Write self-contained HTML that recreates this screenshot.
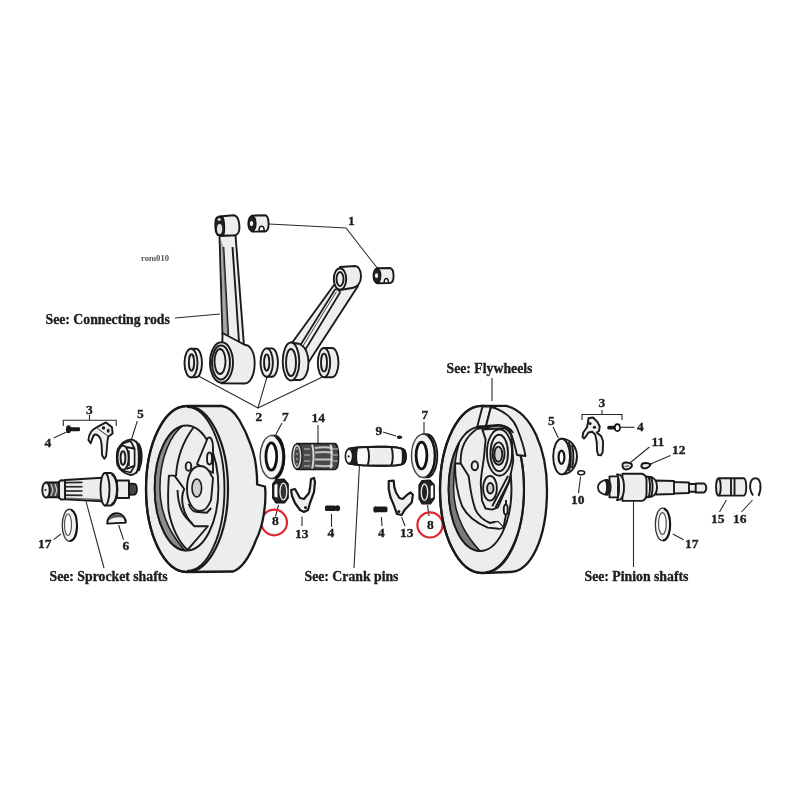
<!DOCTYPE html>
<html><head><meta charset="utf-8">
<style>
html,body{margin:0;padding:0;background:#fff;width:800px;height:800px;overflow:hidden}
svg{display:block;will-change:transform}
.t{font-family:"Liberation Serif",serif;font-weight:bold;font-size:13.75px;fill:#1e1e1e;stroke:#1e1e1e;stroke-width:0.35}
.n{font-family:"Liberation Serif",serif;font-weight:bold;font-size:13.5px;fill:#1e1e1e;stroke:#1e1e1e;stroke-width:0.35}
.s{stroke:#1a1a1a;stroke-width:1.9;fill:#ededed;stroke-linejoin:round}
.w{stroke:#1a1a1a;stroke-width:1.9;fill:#eeeeee;stroke-linejoin:round}
.l{stroke:#2a2a2a;stroke-width:1.1;fill:none}
.k{stroke:#1a1a1a;stroke-width:1.9;fill:none;stroke-linejoin:round}
.d{fill:#1a1a1a}
</style></head><body>
<svg width="800" height="800" viewBox="0 0 800 800">
<!-- ===== labels ===== -->
<text class="t" x="45.5" y="324">See: Connecting rods</text>
<text class="t" x="49.5" y="580.5">See: Sprocket shafts</text>
<text class="t" x="304.5" y="580.5">See: Crank pins</text>
<text class="t" x="584.5" y="580.5">See: Pinion shafts</text>
<text class="t" x="446.5" y="372.5">See: Flywheels</text>
<text x="141" y="260.7" style="font-family:'Liberation Serif',serif;font-weight:bold;font-size:8.6px;fill:#555">rom010</text>

<!-- number labels -->
<text class="n" x="348" y="225">1</text>
<text class="n" x="255.5" y="421">2</text>
<text class="n" x="86" y="414">3</text>
<text class="n" x="44.5" y="447">4</text>
<text class="n" x="137" y="418.3">5</text>
<text class="n" x="122.5" y="549.5">6</text>
<text class="n" x="38" y="548.3">17</text>
<text class="n" x="282" y="421">7</text>
<text class="n" x="311.5" y="422">14</text>
<text class="n" x="295" y="538">13</text>
<text class="n" x="327.5" y="537.3">4</text>
<text class="n" x="375.5" y="435">9</text>
<text class="n" x="421.5" y="419.3">7</text>
<text class="n" x="378" y="537.3">4</text>
<text class="n" x="400" y="537.3">13</text>
<text class="n" x="272" y="525.3">8</text>
<text class="n" x="427" y="529">8</text>
<text class="n" x="548" y="425">5</text>
<text class="n" x="598.5" y="407.3">3</text>
<text class="n" x="637" y="431">4</text>
<text class="n" x="651.5" y="445.8">11</text>
<text class="n" x="672" y="454.3">12</text>
<text class="n" x="571" y="503.8">10</text>
<text class="n" x="711" y="523.3">15</text>
<text class="n" x="733" y="523.3">16</text>
<text class="n" x="685" y="547.8">17</text>

<!-- leaders -->
<g class="l">
<polyline points="175,318 220,314"/>
<polyline points="269,224 346,228 378,269"/>
<polyline points="197.5,375.5 258,408 267,377"/>
<polyline points="258,408 322.5,377"/>
<polyline points="53.6,438 66.6,432"/>
<polyline points="137.3,421 131.6,439"/>
<polyline points="86,501.4 104,568"/>
<polyline points="53.6,539.6 61,534"/>
<polyline points="118.6,525 123.5,539.7"/>
<polyline points="282,423 275.6,435"/>
<polyline points="318,425 318,443"/>
<polyline points="278.6,505 275.5,516.4"/>
<polyline points="302,516.5 302,526"/>
<polyline points="331.5,514 331.5,527"/>
<polyline points="359.4,466 354,568"/>
<polyline points="383,432 396,436"/>
<polyline points="424,422 424,434"/>
<polyline points="381.4,517 382,526"/>
<polyline points="401.6,517 405,526"/>
<polyline points="427.5,505 429,516"/>
<polyline points="492,378 492,401"/>
<polyline points="553,426.75 558.4,438"/>
<polyline points="620.5,427.3 634.5,427.3"/>
<polyline points="649.4,447 629.3,463.5"/>
<polyline points="670.4,455.6 649.4,464.4"/>
<polyline points="578.5,493 580.6,476.5"/>
<polyline points="633.5,501.5 633.5,567"/>
<polyline points="719.5,512 726.4,500"/>
<polyline points="741.5,512 752.5,500"/>
<polyline points="683.7,539.75 672.75,534"/>
<!-- brackets -->
<polyline points="63.3,426 63.3,420.2 116.2,420.2 116.2,426"/>
<polyline points="89.5,420.2 89.5,415"/>
<polyline points="582,420 582,414.5 622,414.5 622,420"/>
<polyline points="602,414.5 602,410"/>
</g>
<!-- red circles -->
<circle cx="274.2" cy="522.5" r="12.8" fill="none" stroke="#e0262b" stroke-width="2.2"/>
<circle cx="430" cy="524.9" r="12.6" fill="none" stroke="#e0262b" stroke-width="2.2"/>


<!-- ===== LEFT PARTS ===== -->
<g id="leftparts">
<!-- screw 4 -->
<rect class="d" x="69" y="427.3" width="11" height="4" rx="1"/>
<ellipse class="d" cx="68.5" cy="429.3" rx="2.6" ry="4"/>
<!-- part 3 hook -->
<path class="w" d="M101.6 424.6 L106 422.4 L112 427.35 L112.6 433.4 L108.2 436.7 C107.5 440 107.1 443 107.1 445.5 C106.8 450 106.5 454 106 456.5 L104.35 458.7 L102.15 455.4 C101.8 451 101.7 447 101.6 444.4 C101.2 441 100.8 439.5 100 437.8 C98.5 435.5 96.5 434.2 95 434.5 C93.5 435 92.8 437 92.25 438.9 L90.6 443.3 L88.4 440 C88.8 436 89.8 433.5 91.15 431.75 C93 429.5 95 428 96.65 427.35 Z"/>
<path d="M97.5 428.5 L108 436" stroke="#333" stroke-width="1" fill="none"/>
<circle class="d" cx="103.5" cy="427.9" r="1.7"/>
<ellipse class="d" cx="108.2" cy="430.8" rx="1.4" ry="2"/>
<!-- nut 5 -->
<path class="w" d="M131.25 439.4 C126 440 121 443 118.1 448.75 C116.5 452 116.5 462 117.5 465 C119 469 124 474 130.6 475 C134 475 138 472 140.6 465 C142 460 142 452 140.6 448 C139 444 135 440 131.25 439.4 Z"/>
<path class="k" stroke-width="1.2" d="M136 441 C139.5 446 140 468 136 473.5 M138.8 443.5 C141 450 141 465 138.8 471"/>
<path d="M122.5 443.75 L130.6 441 L134.6 448.75 L134.6 465.6 L130.6 472.5 L122.5 470.6 Z" fill="#f6f6f6" stroke="#1a1a1a" stroke-width="1.7" stroke-linejoin="round"/>
<path class="k" stroke-width="1.2" d="M128.75 450.5 L128.75 466 M126.5 447 L134.6 448.75 M126.5 469 L134.6 465.6"/>
<ellipse class="w" cx="123.1" cy="457.8" rx="5.6" ry="12.2"/>
<ellipse class="k" stroke-width="1.7" cx="123" cy="458" rx="2.4" ry="6.8"/>
<!-- sprocket shaft -->
<path class="s" d="M117 480.5 L129 480.5 L129 498 L117 498 Z"/>
<path d="M129 483.6 L134.5 483.8 C137.8 485 137.8 493.5 134.5 494.8 L129 494.9 Z" fill="#444" stroke="#111" stroke-width="1.6"/>
<path class="s" d="M65 480 L102.5 477.75 L102.5 501.25 L65 499.25 Z"/>
<g stroke="#2a2a2a" stroke-width="1.7" fill="none">
<line x1="66" y1="482.6" x2="82.5" y2="482.4"/><line x1="66" y1="486.75" x2="82.5" y2="486.75"/>
<line x1="66" y1="491" x2="82.5" y2="491"/><line x1="66" y1="495.2" x2="82.5" y2="495.4"/>
</g>
<path d="M66 497.5 L102 499 L102 500.5 L66 498.8 Z" fill="#666"/>
<path class="w" d="M58.75 482 L61 480.3 L65 480.5 L65 499.25 L61 499.5 L58.75 497.5 Z"/>
<path d="M46 482.4 L59 482.4 L59 497.4 L46 497.4 Z" fill="#4a4a4a" stroke="#111" stroke-width="1.6"/>
<path d="M51 484 L53 490 L51 496 M55 484 L57 490 L55 496" stroke="#ccc" stroke-width="1.2" fill="none"/>
<ellipse class="w" cx="46" cy="490" rx="3.7" ry="7.5"/>
<circle class="d" cx="45.5" cy="490" r="1"/>
<path class="s" d="M105 473 L110 473 A7.5 16.25 0 0 1 110 505.5 L105 505.5 Z"/>
<path class="k" stroke-width="1.2" d="M111.5 474.5 A6 14.8 0 0 1 111.5 504"/>
<ellipse class="w" cx="105" cy="489.25" rx="4.5" ry="16.25"/>
<!-- ring 17 -->
<ellipse cx="69.5" cy="525.25" rx="7.3" ry="16" fill="#f2f2f2" stroke="#333" stroke-width="1.3"/>
<path d="M71 509.6 C76 512 77 520 77 525.5 C77 532 75.5 540 70 541" fill="none" stroke="#111" stroke-width="2"/>
<ellipse cx="68" cy="524.75" rx="3.5" ry="10.75" fill="#fff" stroke="#555" stroke-width="1.2"/>
<!-- key 6 -->
<path d="M107.3 523.6 C107 518 111.5 513.3 116.8 513.3 C121.5 513.3 125.8 517.5 125.8 522.6 Z" fill="#f4f4f4" stroke="#111" stroke-width="1.9" stroke-linejoin="round"/>
<path d="M109 520.5 C110 516 113 514.5 117 514.5 C121 514.5 123.5 516.5 124.5 518.5 C120 516.5 113 516.8 109 520.5 Z" fill="#555"/>
</g>


<!-- ===== MIDDLE PARTS ===== -->
<g id="midparts">
<!-- washer 7 left -->
<path class="s" d="M271 435.6 L275 435.6 A9.3 21.4 0 0 1 275 478.4 L271 478.4 Z"/>
<ellipse cx="271.5" cy="457" rx="11.3" ry="21.4" fill="#f4f4f4" stroke="#444" stroke-width="1.4"/>
<path d="M276 436.8 C281 441 284 449 284 457 C284 466 281 474 275.5 477.8" fill="none" stroke="#111" stroke-width="2.4"/>
<ellipse cx="271.3" cy="456.5" rx="5.4" ry="13.6" fill="#fff" stroke="#111" stroke-width="2.8"/>
<!-- needle bearing 14 -->
<path d="M297 443.6 L335 443.6 C339.5 444 340 469 335 469.5 L297 469.5 Z" fill="#4a4a4a" stroke="#1a1a1a" stroke-width="1.6"/>
<g stroke="#c4c4c4" stroke-width="2" fill="none">
<path d="M315 448 C322 447 328 447 333 448.5"/><path d="M315 452.5 C322 451.8 328 451.8 333 452.8"/>
<path d="M315 459.5 L333 459.5"/><path d="M315 465.5 C322 466.5 328 466.5 333 465.5"/>
</g>
<g stroke="#9a9a9a" stroke-width="1.6" fill="none">
<path d="M304 449 L310 449 M304 455 L310 455 M304 461 L310 461 M304 466 L310 466"/>
<path d="M333 449 L338 449 M333 455 L338 455 M333 461 L338 461"/>
</g>
<g stroke="#d8d8d8" stroke-width="2" fill="none">
<path d="M312 444.5 C314 450 314 463 312 468.5"/><path d="M330.5 444.5 C332 450 332 463 330.5 468.5"/>
</g>
<ellipse cx="297" cy="456.5" rx="5" ry="12.6" fill="#444" stroke="#1a1a1a" stroke-width="1.4"/>
<ellipse cx="297" cy="456.5" rx="3.6" ry="11" fill="none" stroke="#cfcfcf" stroke-width="1.5"/>
<path d="M296 449 L298 449 M296 454 L298 454 M296 459 L298 459 M296 464 L298 464" stroke="#999" stroke-width="1.5"/>
<!-- nut 8 left -->
<path d="M276 479.5 L284 479.1 L288.2 484 L288.2 498 L284.5 502.9 L276 502.9 L272.7 498 L272.7 484 Z" fill="#222" stroke="#111" stroke-width="1.2"/>
<path d="M274.4 485 L277.4 483.5 L277.4 497.8 L274.4 496.5 Z" fill="#fff"/>
<ellipse cx="283.4" cy="491.5" rx="3.4" ry="8.4" fill="#333" stroke="#e8e8e8" stroke-width="1.3"/>
<!-- part 13 left -->
<path class="w" style="stroke-width:2.2" d="M291 490 L295 489 L300 498 L304 499 L309 493 L310 488 L311 479 L314 478 L315 482 L314 492 L310 503 L308 510 L304 512 L300 510 L295 503 L292 496 Z"/>
<circle class="d" cx="305.5" cy="507.5" r="1.5"/>
<!-- screw 4 mid-left -->
<rect class="d" x="325" y="505.5" width="11" height="5.5" rx="1.5"/>
<ellipse class="d" cx="337.5" cy="508.3" rx="2.6" ry="3"/>
<!-- crank pin -->
<path d="M349 448.6 C360 446.8 375 446.6 385 446.8 C393 447 400 447.8 403 449.2 C406.8 451 406.8 462 403 463.8 C400 465.2 393 465.6 385 465.7 C375 465.9 360 465.6 349 463.6 Z" fill="#eeeeee" stroke="#1a1a1a" stroke-width="1.9"/>
<path d="M351.5 448.3 L358.5 447.6 C357 452 357 461 358.5 465.3 L351.5 464 Z" fill="#1e1e1e"/>
<path d="M400.7 447.8 C404.5 448.5 406 449.5 406 456.5 C406 463.5 404.5 464.5 400.7 465.2 C402 461 402 452 400.7 447.8 Z" fill="#1e1e1e"/>
<path d="M358.5 447.6 C357 452 357 461 358.5 465.3 L367.5 465.6 C369.5 461 369.5 452 367.5 447.1 Z" fill="#fafafa"/>
<path d="M391.3 446.9 C393.3 452 393.3 461 391.3 465.6 L400.7 465.2 C402 461 402 452 400.7 447.8 Z" fill="#fafafa"/>
<path class="k" stroke-width="1.4" d="M367.5 447.1 C369.5 452 369.5 461 367.5 465.6 M391.3 446.9 C393.3 452 393.3 461 391.3 465.6"/>
<path d="M349 448.6 C360 446.8 375 446.6 385 446.8 C393 447 400 447.8 403 449.2 C406.8 451 406.8 462 403 463.8 C400 465.2 393 465.6 385 465.7 C375 465.9 360 465.6 349 463.6" fill="none" stroke="#1a1a1a" stroke-width="1.9"/>
<ellipse cx="349" cy="456.2" rx="3.6" ry="7.3" fill="#fafafa" stroke="#1a1a1a" stroke-width="1.6"/>
<circle class="d" cx="348.6" cy="456.4" r="1.1"/>
<!-- part 9 -->
<ellipse class="d" cx="399.5" cy="437.2" rx="2.8" ry="1.7"/>
<!-- washer 7 right -->
<path class="s" d="M423 434.2 L427 434.2 A10.3 21.6 0 0 1 427 477.4 L423 477.4 Z"/>
<ellipse cx="423" cy="455.8" rx="11.5" ry="21.6" fill="#f4f4f4" stroke="#444" stroke-width="1.4"/>
<path d="M428 435.5 C433 440 435 448 435 456 C435 465 432.5 473 427 476.8" fill="none" stroke="#111" stroke-width="2.2"/>
<ellipse cx="421.5" cy="455.5" rx="5.4" ry="13.4" fill="#fff" stroke="#111" stroke-width="2.8"/>
<!-- screw 4 mid-right -->
<rect class="d" x="376" y="506.5" width="11.5" height="5.8" rx="1.5"/>
<ellipse class="d" cx="375.5" cy="509.4" rx="2.2" ry="3.2"/>
<!-- part 13 right -->
<path class="w" style="stroke-width:2.2" d="M388.7 481 L393.7 480.7 L394.3 486.9 L396 492.5 L399.4 498 L402.7 499 L407.2 494.7 L410.6 492.5 L412.9 494.7 L411.7 502.6 L405 509.4 L401.6 515 L397 514 L393.7 504.9 L390.4 497 L388.7 489 Z"/>
<circle class="d" cx="398.8" cy="511.6" r="1.5"/>
<!-- nut 8 right -->
<path d="M422 480.5 L430 480 L434.3 485 L434.3 498.5 L430.5 503.8 L422 503.8 L419 498.5 L419 485 Z" fill="#222" stroke="#111" stroke-width="1.2"/>
<path d="M430.7 486 L433.3 485 L433.3 497.5 L430.7 498.5 Z" fill="#fff"/>
<ellipse cx="424.5" cy="492.2" rx="3.2" ry="8.2" fill="#222" stroke="#e8e8e8" stroke-width="1.3"/>
</g>


<!-- ===== RIGHT PARTS ===== -->
<g id="rightparts">
<!-- nut 5 right -->
<path class="s" d="M561.6 438.75 L565 439.2 C572 441 577 448 577 456.5 C577 465 572 472.5 566 473.8 L561.6 474.4 Z"/>
<path class="k" stroke-width="1.1" d="M568.5 442 C571.5 447 571.8 466 568.5 471 M571.8 445 C573.8 450 573.8 463 571.8 468"/>
<ellipse class="w" cx="561.6" cy="456.6" rx="8.4" ry="17.8" style="fill:#f4f4f4"/>
<ellipse cx="561.5" cy="457.2" rx="2.9" ry="6.6" fill="#fff" stroke="#111" stroke-width="2.2"/>
<!-- part 10 -->
<ellipse cx="581.25" cy="472.8" rx="3.4" ry="2" fill="#fff" stroke="#111" stroke-width="1.5"/>
<!-- part 3 right -->
<path class="w" d="M588.5 418.25 L593 417.5 L597.5 422 L599.75 426.5 L599 431 L596.75 432.5 L601.25 436.25 L603.1 441.5 L602.75 452 L600.9 455.4 L598.25 455 L597.1 451.25 L596.75 442.25 L595.25 434.75 L592.25 431.75 L588.5 432.5 L585.5 437 L584 438.5 L582.5 437 L583.25 432.5 L587 427.25 L587.75 423.5 Z"/>
<circle class="d" cx="590" cy="423.5" r="1.6"/>
<circle class="d" cx="594.5" cy="427.25" r="1.6"/>
<!-- screw 4 right -->
<rect class="d" x="607.25" y="425.75" width="9" height="3.8" rx="1.5"/>
<ellipse cx="617.4" cy="427.6" rx="2.6" ry="3.5" fill="#fff" stroke="#111" stroke-width="1.6"/>
<!-- parts 11, 12 -->
<path d="M622.5 465 C622 462 628 461.8 631.5 464 C633 466.5 630 469.5 626 469.5 C623 469.5 622.5 467 622.5 465 Z" fill="#e4e4e4" stroke="#111" stroke-width="1.9"/>
<path d="M624.5 466.5 L629 465.8" stroke="#555" stroke-width="1.2"/>
<path d="M641.5 465 C642 462.5 648 462.3 650.5 464.5 C649.5 468 645 469 643 468 C641.5 467.5 641.2 466 641.5 465 Z" fill="#e4e4e4" stroke="#111" stroke-width="1.9"/>
<!-- pinion shaft -->
<path class="s" d="M656 480.5 L674 481 L674 482 L689 482.5 L689 484 L695.7 484 L695.7 483.5 L704 483.5 C707 485 707 491 704 492.5 L695.7 492.5 L695.7 491.7 L689 491.7 L689 493 L674 493.5 L674 494 L656 494.5 Z"/>
<line class="k" stroke-width="1" x1="674" y1="482" x2="674" y2="493.5"/>
<line class="k" stroke-width="1" x1="689" y1="482.5" x2="689" y2="493"/>
<line class="k" stroke-width="1" x1="695.7" y1="484" x2="695.7" y2="491.7"/>
<path class="s" d="M646 476.5 L652 477.25 C655.5 479 657 483 657 487 C657 491 655.5 495 652 496.5 L646 497.5 Z"/>
<path class="k" stroke-width="1.4" d="M648.5 477 C650.5 481 650.5 493 648.5 497 M651 477.5 C653 481 653 493 651 496.5"/>
<path class="w" d="M622.4 473.75 L642 473.75 C645 474.5 646.5 477 646.5 480 L646.5 494 C646.5 497 645 500 642 500.9 L622.4 500.9 Z"/>
<path class="w" d="M609.5 476.4 L618 476.4 L618 497.4 L609.5 497.4 Z"/>
<path class="s" d="M617 474.5 C621 473.5 624 478 624 487.3 C624 496.5 621 501 617 500 C619.5 496 620 478 617 474.5 Z"/>
<path d="M607.5 479.9 C601.5 480 597.9 483.5 597.9 487.3 C597.9 491.5 601.5 494.75 607.5 494.75 Z" fill="#fafafa" stroke="#1a1a1a" stroke-width="1.8"/>
<path d="M605 480 C609.5 479 611 483 611 487.3 C611 491.5 609.5 495.5 605 494.6 C607.5 491 607.5 483.5 605 480 Z" fill="#222" stroke="#1a1a1a" stroke-width="1.2"/>
<!-- part 15 -->
<path class="s" d="M718.4 478.3 L744 478.3 C747 480 747 494 744 495.6 L718.4 495.6 Z"/>
<line class="k" stroke-width="1" x1="731" y1="478.5" x2="731" y2="495.5"/>
<line class="k" stroke-width="1" x1="734.5" y1="478.5" x2="734.5" y2="495.5"/>
<ellipse class="w" cx="718.4" cy="487.1" rx="2.3" ry="8.5"/>
<!-- part 16 -->
<path class="k" stroke-width="1.6" d="M753 495.5 C748 488 750 478 755.5 478.2 C761 478.4 762 488 758.5 496"/>
<!-- ring 17 right -->
<ellipse cx="662.6" cy="524.4" rx="7.3" ry="16.3" fill="#f2f2f2" stroke="#333" stroke-width="1.3"/>
<path d="M664 508.5 C669 511 670.2 519 670.2 524.5 C670.2 531 668.5 539.5 663 540.6" fill="none" stroke="#111" stroke-width="2"/>
<ellipse cx="662.4" cy="523.6" rx="3.9" ry="10.9" fill="#fff" stroke="#555" stroke-width="1.2"/>
</g>


<!-- ===== RODS ===== -->
<g id="rods">
<!-- bushing 1 top -->
<path class="w" d="M252 215.6 L265 215.3 C269.5 216 270 231 265 231.5 L252 231.6 Z"/>
<ellipse cx="252" cy="223.5" rx="4" ry="7.8" fill="#222" stroke="#111" stroke-width="1.2"/>
<ellipse cx="251.5" cy="223.5" rx="1.6" ry="2.5" fill="#fff"/>
<path d="M259 231 C259 227 260.5 226.3 261.6 226.3 C262.8 226.3 264.2 227 264.2 231 Z" fill="#fff" stroke="#1a1a1a" stroke-width="1.5"/>
<!-- bushing 1 lower -->
<path class="w" d="M377 268.3 L390 268 C394.5 269 395 282.5 390 283 L377 283.2 Z"/>
<ellipse cx="377" cy="275.7" rx="3.8" ry="7.5" fill="#222" stroke="#111" stroke-width="1.2"/>
<ellipse cx="376.5" cy="275.7" rx="1.5" ry="2.4" fill="#fff"/>
<path d="M384.2 283 C384.2 279.2 385.5 278.4 386.3 278.4 C387.3 278.4 388.4 279.2 388.4 283 Z" fill="#fff" stroke="#1a1a1a" stroke-width="1.5"/>
<!-- left rod shank -->
<path class="w" d="M219.5 236 L235.5 235 L244 346 L222.5 334 Z"/>
<path class="k" stroke-width="1.2" d="M223.4 247 L228.2 335 M232.5 247 L239 342"/>
<path d="M221 240 L223.4 247 L228.2 335 L223 333 Z" fill="#777" opacity="0.6"/>
<!-- left rod small end -->
<path class="w" d="M219 216.5 L233.75 215.3 C238 216 239.5 222 239.4 229 C239 233 237 235 234.4 235.3 L222 235.6 Z"/>
<path d="M217 217 C214 219 214.5 233 217.5 235.3 L223.5 235.5 C225 232 225 220 222.5 216.5 Z" fill="#222" stroke="#111" stroke-width="1.2"/>
<ellipse cx="219.6" cy="229" rx="2.6" ry="5" fill="#e2e2e2"/>
<ellipse cx="219.2" cy="219.5" rx="1.6" ry="1.2" fill="#eee"/>
<!-- left rod big end -->
<path class="w" d="M222.5 333 L245 345 C250 345 254.7 352 254.7 363 C254.7 375 250 383.5 245 383.5 L221.5 383.4 Z"/>
<ellipse class="w" cx="221.5" cy="362.5" rx="11.5" ry="20.2"/>
<ellipse class="k" stroke-width="1.2" cx="221" cy="362.5" rx="9" ry="17"/>
<ellipse class="w" cx="220" cy="361.5" rx="5.5" ry="12.5"/>
<!-- left bearing ring -->
<path class="s" d="M191 348.7 L196 348.7 A6 14.3 0 0 1 196 377.3 L191 377.3 Z"/>
<ellipse class="w" cx="191" cy="363" rx="6.5" ry="14.3"/>
<ellipse class="k" stroke-width="1.8" cx="191.5" cy="362.5" rx="2.6" ry="8.2"/>
<!-- middle bearing ring -->
<path class="s" d="M266.7 348.4 L272 348.4 A6 14.2 0 0 1 272 376.8 L266.7 376.8 Z"/>
<ellipse class="w" cx="266.7" cy="362.6" rx="6.2" ry="14.2"/>
<ellipse class="k" stroke-width="1.8" cx="266.7" cy="362.6" rx="2.6" ry="8.2"/>
<!-- right rod shank -->
<path class="w" d="M334 285 L358 286 L307.4 364 L289 347 Z"/>
<path d="M300.5 345 L335 289.5 C337 288.5 339.5 290 340 292.5 L304.5 351 C302.5 351.5 300 349 300.5 345 Z" fill="#f4f4f4" stroke="#1a1a1a" stroke-width="1.7" stroke-linejoin="round"/>
<path d="M303 346 L336.5 291.5" stroke="#444" stroke-width="1" fill="none"/>
<!-- right rod small end -->
<path class="w" d="M340 267 L355 266 C359 266.5 361 271 361 277 C361 283 357 287.5 352 288 L340 290 Z"/>
<ellipse class="w" cx="340" cy="279" rx="6.2" ry="10.8"/>
<ellipse class="k" stroke-width="1.2" cx="340" cy="279" rx="3.5" ry="7"/>
<!-- right rod big end -->
<path class="w" d="M291 342.5 L300 344 C305 347 308.5 354 308.5 363 C308.5 372 305 379.5 300 380 L291 380 Z"/>
<ellipse class="w" cx="291" cy="361.5" rx="8.3" ry="19"/>
<ellipse class="k" stroke-width="1.3" cx="291" cy="362.5" rx="5" ry="13.5"/>
<!-- right bearing ring -->
<path class="s" d="M324 348 L332 348 A6.5 14.6 0 0 1 332 377.2 L324 377.2 Z"/>
<ellipse class="w" cx="324" cy="362.6" rx="6.2" ry="14.6"/>
<ellipse class="k" stroke-width="1.8" cx="324" cy="362.6" rx="3" ry="9"/>
</g>

<!-- ===== LEFT FLYWHEEL ===== -->
<g id="fwL">
<path class="s" style="stroke-width:2.3" d="M187 406 L222 406 C230 407 235 413 239.25 420 C244 428 248 437 250.8 445 C253.5 452.5 255.5 460 256 466.25 C256.8 472 257.2 478 257.2 484.5 L265 486.5 C266.5 500 264 525 256 540 C250 556 243 568 233 571.5 L187 572 A41 83 0 0 1 187 406 Z"/>
<ellipse class="k" style="stroke-width:2.2" cx="187" cy="489" rx="41" ry="83"/>
<path class="k" stroke-width="1.2" d="M187 407 A37.5 82 0 0 1 187 571"/>
<path d="M182.5 426 A31.9 62.5 0 0 0 184.7 550.4 C176 540 159.9 520 159.9 488 C159.9 455 172 434 182.5 426 Z" fill="#8c8c8c" stroke="#1a1a1a" stroke-width="1.5"/>
<ellipse class="k" cx="186.5" cy="488" rx="31.9" ry="62.5"/>
<path class="k" d="M193.75 427 C184 440 177 458 176 476"/>
<path class="w" d="M168.9 475.6 L174.5 475.6 L184.25 489 C180 498 182 515 194.4 526.25 L207.9 526.25 L187.6 549.9 C179.5 543 171.5 528 168.5 510 C167.5 495 168.3 485 168.9 475.6 Z"/>
<path class="k" stroke-width="1.3" d="M177.5 490 C178 505 183 517 192 523"/>
<path class="w" d="M197 464 L207.75 438 C211 436 213 441 213 447 L213 473 Z"/>
<ellipse class="w" cx="209.5" cy="458.5" rx="2.5" ry="6"/>
<path class="w" d="M187 489 C187 475 192 466 200 466 C205 466 209 470 211 475 L213 478 L212 490 L211 500 C208 508 204 511 200 511 C193 511 187 502 187 489 Z"/>
<path class="k" stroke-width="1.5" d="M188.75 503.75 C190 508 193 511.6 196 511.8 L206.75 512.75 L211.25 508"/>
<ellipse cx="196.8" cy="488" rx="4.8" ry="9" fill="#d0d0d0" stroke="#1a1a1a" stroke-width="1.6"/>
<ellipse class="w" cx="188.5" cy="466.4" rx="2.8" ry="4.3"/>
</g>

<!-- ===== RIGHT FLYWHEEL ===== -->
<g id="fwR">
<path class="s" style="stroke-width:2.3" d="M482 405.8 L506 405.8 C532 412 547 450 547 490 C547 540 530 572 510 572 L482 573 A42 83.6 0 0 1 482 405.8 Z"/>
<ellipse class="k" style="stroke-width:2.2" cx="482" cy="489.4" rx="42" ry="83.6"/>
<path class="k" stroke-width="1" d="M486 406 A38 83 0 0 1 486 572"/>
<path d="M459.5 442 A31.5 62 0 0 0 480 551 C470 540 453.6 520 453.6 488 C453.6 465 457 450 459.5 442 Z" fill="#7a7a7a" stroke="#1a1a1a" stroke-width="1.5"/>
<ellipse class="k" cx="480" cy="489" rx="31.5" ry="62"/>
<!-- slot + arc tab -->
<path class="w" d="M482.5 406.5 L491 406.5 L486 426 L477.3 426.5 Z"/>
<path class="w" d="M491 407 C503 410 513 418 517 428 C521 438 524 447 525.5 456 L517 455 C515 446 513 438 510 431 C507 427 503 425 498 425 L486 426 Z"/>
<path class="k" stroke-width="1.7" d="M455 463.5 L460.75 463.5 C460 450 465 437 477.3 428.75 L498.6 425.5 C506 426 511 429 513.25 432.9"/>
<path class="k" stroke-width="1.7" d="M455 463.5 C455 475 456 490 462 506 C466 514 474 522 487.75 527.6 L499 528.75 L503.5 527.6"/>
<path class="k" stroke-width="1.7" d="M460.75 463.5 L468.6 475.9 C470 485 470.5 495 475.4 509.6 C478 515 482 519.75 490 523 L494.5 522 L497.9 522 L503.5 527.6 L505.75 516 L506 500"/>
<path d="M495 522.5 L498 522.2 L502.5 527 L499 528.3 Z" fill="#fff"/>
<ellipse class="w" cx="505.75" cy="509.6" rx="2" ry="5"/>
<!-- pinion plate -->
<path class="w" d="M482.4 429.6 L505 428 C509 431 511.6 434 511.6 437.75 L513.25 460.5 C512 470 510 477 508.4 483.25 L497.9 507.4 L492.25 509.6 L485.5 508.5 L482 500.6 L480.75 483.25 C481 475 483 465 484 457.25 L485.6 439.4 Z"/>
<ellipse class="k" cx="499.5" cy="452.5" rx="12.6" ry="23.2"/>
<ellipse class="k" cx="499.2" cy="453" rx="8.8" ry="18.3"/>
<ellipse class="k" cx="498.6" cy="453.6" rx="6" ry="11.2"/>
<ellipse cx="498.3" cy="454.2" rx="4" ry="7.6" fill="#d0d0d0" stroke="#1a1a1a" stroke-width="1.9"/>
<ellipse class="w" cx="490" cy="488.25" rx="6.9" ry="12.4"/>
<ellipse cx="490.3" cy="488.25" rx="3.2" ry="5.2" fill="#d0d0d0" stroke="#1a1a1a" stroke-width="1.9"/>
<path class="k" stroke-width="1.4" d="M508 475.9 L492.25 506.25 M511 478 L495.5 507.5"/>
<ellipse class="w" cx="474.8" cy="465.75" rx="3.2" ry="4.5"/>
</g>

</svg>
</body></html>
